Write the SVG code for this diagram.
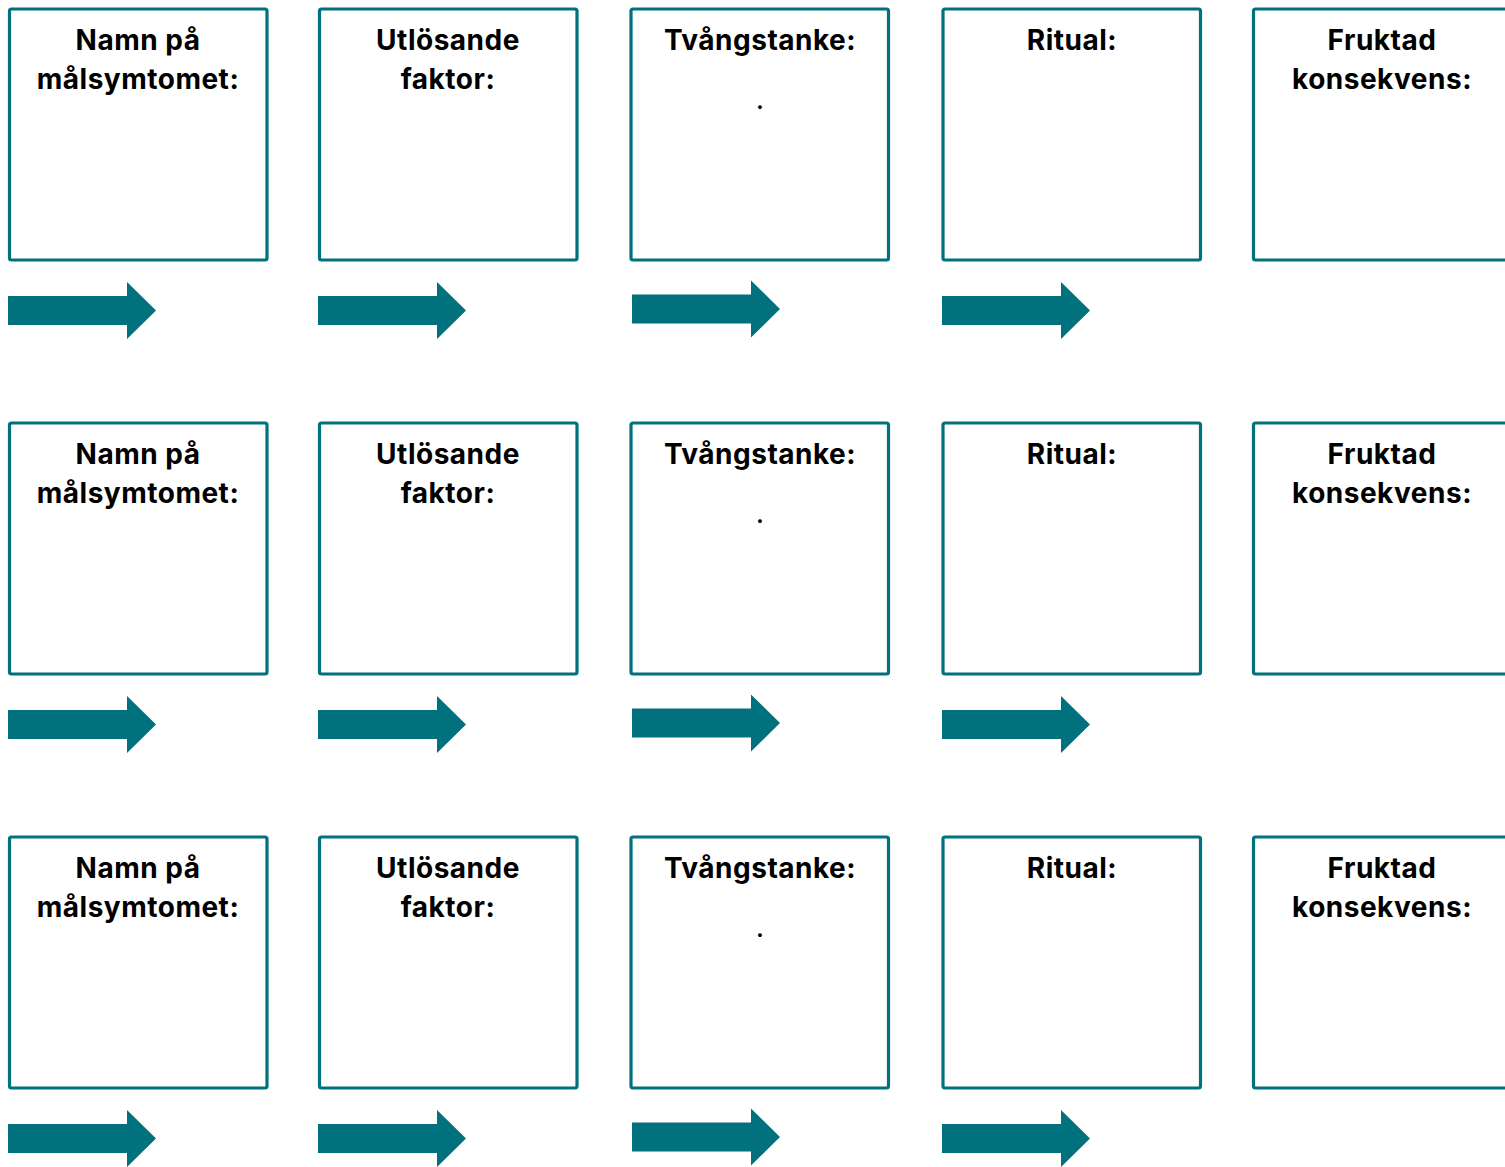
<svg xmlns="http://www.w3.org/2000/svg" width="1505" height="1167" viewBox="0 0 1505 1167">
<style>
.box{fill:#fff;stroke:#00717d;stroke-width:3.2}
.lbl{font-family:Inter,"Liberation Sans",sans-serif;font-weight:700;font-size:28px;letter-spacing:0.5px;fill:#000;text-anchor:middle}
.dot{font-family:Inter,"Liberation Sans",sans-serif;font-weight:700;font-size:22px;fill:#000;text-anchor:middle}
.arr{fill:#00717d}
</style>
<defs>
<polygon id="arrow" points="0,296 119,296 119,282 148,310.5 119,339 119,325 0,325"/>
</defs>
<rect width="1505" height="1167" fill="#fff"/>
<g id="row1">
<g id="n1a"><rect class="box" x="9.5" y="9" width="257.5" height="251" rx="2"/><text class="lbl" x="138" y="49.5">Namn på</text><text class="lbl" x="138" y="88.5">målsymtomet:</text></g>
<g id="n1b"><rect class="box" x="319.5" y="9" width="257.5" height="251" rx="2"/><text class="lbl" x="448" y="49.5">Utlösande</text><text class="lbl" x="448" y="88.5">faktor:</text></g>
<g id="n1c"><rect class="box" x="631" y="9" width="257.5" height="251" rx="2"/><text class="lbl" x="760" y="49.5">Tvångstanke:</text><text class="dot" x="760" y="108.5">.</text></g>
<g id="n1d"><rect class="box" x="943" y="9" width="257.5" height="251" rx="2"/><text class="lbl" x="1072" y="49.5">Ritual:</text></g>
<g id="n1e"><rect class="box" x="1253.5" y="9" width="260" height="251" rx="2"/><text class="lbl" x="1382" y="49.5">Fruktad</text><text class="lbl" x="1382" y="88.5">konsekvens:</text></g>
</g>
<g id="row2" transform="translate(0,414)">
<g id="n2a"><rect class="box" x="9.5" y="9" width="257.5" height="251" rx="2"/><text class="lbl" x="138" y="49.5">Namn på</text><text class="lbl" x="138" y="88.5">målsymtomet:</text></g>
<g id="n2b"><rect class="box" x="319.5" y="9" width="257.5" height="251" rx="2"/><text class="lbl" x="448" y="49.5">Utlösande</text><text class="lbl" x="448" y="88.5">faktor:</text></g>
<g id="n2c"><rect class="box" x="631" y="9" width="257.5" height="251" rx="2"/><text class="lbl" x="760" y="49.5">Tvångstanke:</text><text class="dot" x="760" y="108.5">.</text></g>
<g id="n2d"><rect class="box" x="943" y="9" width="257.5" height="251" rx="2"/><text class="lbl" x="1072" y="49.5">Ritual:</text></g>
<g id="n2e"><rect class="box" x="1253.5" y="9" width="260" height="251" rx="2"/><text class="lbl" x="1382" y="49.5">Fruktad</text><text class="lbl" x="1382" y="88.5">konsekvens:</text></g>
</g>
<g id="row3" transform="translate(0,828)">
<g id="n3a"><rect class="box" x="9.5" y="9" width="257.5" height="251" rx="2"/><text class="lbl" x="138" y="49.5">Namn på</text><text class="lbl" x="138" y="88.5">målsymtomet:</text></g>
<g id="n3b"><rect class="box" x="319.5" y="9" width="257.5" height="251" rx="2"/><text class="lbl" x="448" y="49.5">Utlösande</text><text class="lbl" x="448" y="88.5">faktor:</text></g>
<g id="n3c"><rect class="box" x="631" y="9" width="257.5" height="251" rx="2"/><text class="lbl" x="760" y="49.5">Tvångstanke:</text><text class="dot" x="760" y="108.5">.</text></g>
<g id="n3d"><rect class="box" x="943" y="9" width="257.5" height="251" rx="2"/><text class="lbl" x="1072" y="49.5">Ritual:</text></g>
<g id="n3e"><rect class="box" x="1253.5" y="9" width="260" height="251" rx="2"/><text class="lbl" x="1382" y="49.5">Fruktad</text><text class="lbl" x="1382" y="88.5">konsekvens:</text></g>
</g>
<g id="connectors" class="arr">
<use href="#arrow" x="8" y="0"/><use href="#arrow" x="318" y="0"/><use href="#arrow" x="632" y="-1.5"/><use href="#arrow" x="942" y="0"/>
<use href="#arrow" x="8" y="414"/><use href="#arrow" x="318" y="414"/><use href="#arrow" x="632" y="412.5"/><use href="#arrow" x="942" y="414"/>
<use href="#arrow" x="8" y="828"/><use href="#arrow" x="318" y="828"/><use href="#arrow" x="632" y="826.5"/><use href="#arrow" x="942" y="828"/>
</g>
</svg>
